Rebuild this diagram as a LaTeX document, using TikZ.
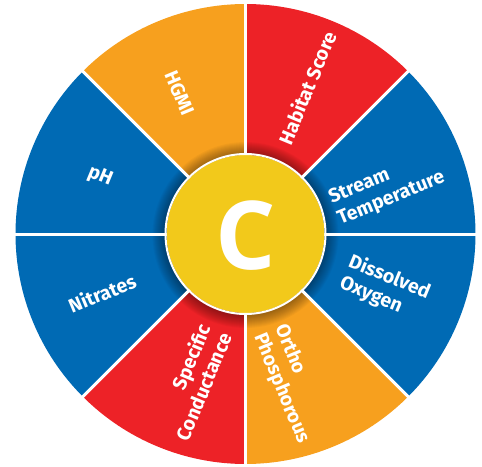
\documentclass[tikz,border=0pt]{standalone}
\usepackage{fontspec}
\setmainfont{Fira Sans}
\newfontfamily\hubfont{Open Sans}
\usepackage{tikz}

\definecolor{wheelblue}{RGB}{0,106,180}
\definecolor{wheelred}{RGB}{237,34,39}
\definecolor{wheelorange}{RGB}{247,160,30}
\definecolor{wheelyellow}{RGB}{242,201,27}

\begin{document}
\begin{tikzpicture}[x=1pt,y=1pt]
            \tikzstyle{every node}+=[inner sep=0pt]
            \tikzstyle{label}=[text=white, font=\bfseries\fontsize{19.5}{23}\selectfont]
            \useasboundingbox (-245.5,-232) rectangle (236.5,234);
            % sectors
            \fill [wheelblue] (0,0) -- (0:230) arc (0:45:230) -- cycle;
            \fill [wheelred] (0,0) -- (45:230) arc (45:90:230) -- cycle;
            \fill [wheelorange] (0,0) -- (90:230) arc (90:135:230) -- cycle;
            \fill [wheelblue] (0,0) -- (135:230) arc (135:180:230) -- cycle;
            \fill [wheelblue] (0,0) -- (180:230) arc (180:225:230) -- cycle;
            \fill [wheelred] (0,0) -- (225:230) arc (225:270:230) -- cycle;
            \fill [wheelorange] (0,0) -- (270:230) arc (270:315:230) -- cycle;
            \fill [wheelblue] (0,0) -- (315:230) arc (315:360:230) -- cycle;
            % shadow round the hub
            \foreach \r in {81,...,93}
                \fill [black, opacity=0.03] (0,-1) circle (\r);
            % dividers
            \foreach \a in {0,45,...,315}
                \draw [white, line width=3] (0,0) -- (\a:231);
            % hub
            \fill [wheelyellow] (0,0) circle (79);
            \draw [white, line width=2] (0,0) circle (80);
            \node (hub) at (0.5,-2) {\hubfont\bfseries\fontsize{95}{95}\selectfont\color{white}C};
            % labels
            \node [label, rotate=-67.5] (hgmi) at (-65.5,141) {HGMI};
            \node [label, rotate=67.5] (habitat) at (61.5,146) {Habitat Score};
            \node [label, rotate=22.5, align=left] (stream) at (141.5,46) {Stream\\Temperature};
            \node [label, rotate=-22.5, align=left] (oxygen) at (139.5,-54) {Dissolved\\Oxygen};
            \node [label, rotate=-67.5, align=left] (ortho) at (46.5,-150) {Ortho\\Phosphorous};
            \node [label, rotate=67.5, align=right] (conductance) at (-52.5,-148) {Specific\\Conductance};
            \node [label, rotate=22.5] (nitrates) at (-143.5,-59) {Nitrates};
            \node [label, rotate=-22.5] (ph) at (-145.5,57) {pH};
\end{tikzpicture}
\end{document}
